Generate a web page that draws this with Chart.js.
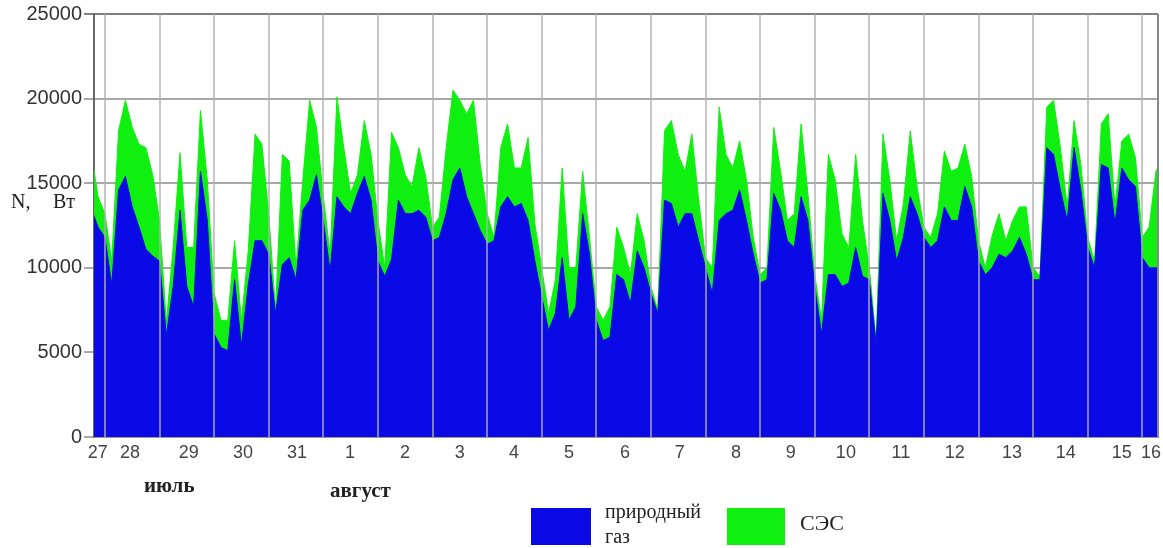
<!DOCTYPE html>
<html lang="ru">
<head>
<meta charset="utf-8">
<title>Мощность: природный газ и СЭС</title>
<script src="https://cdn.jsdelivr.net/npm/chart.js@4.4.1/dist/chart.umd.min.js"></script>
<style>
    body { margin: 0; background: #fff; }
    #wrap { position: relative; width: 1163px; height: 548px; font-family: "Liberation Serif", "Times New Roman", serif; color: #222; }
    #grafico { position: absolute; left: 0; top: 0; }
    .txt { position: absolute; white-space: nowrap; line-height: 1; }
    .caja { position: absolute; }
</style>
</head>
<body>
<div id="wrap">
    <canvas id="grafico" width="1163" height="548"></canvas>
    <div class="txt" style="left:11px; top:191px; font-size:20px;">N,</div>
    <div class="txt" style="left:53px; top:191px; font-size:20px;">Вт</div>
    <div class="txt" style="left:144px; top:475px; font-size:21px; font-weight:bold;">июль</div>
    <div class="txt" style="left:330px; top:480px; font-size:21px; font-weight:bold;">август</div>
    <div class="caja" style="left:531px; top:508px; width:60px; height:37px; background:#0a0ae6;"></div>
    <div class="txt" style="left:605px; top:501px; font-size:20px;">природный</div>
    <div class="txt" style="left:605px; top:526px; font-size:20px;">газ</div>
    <div class="caja" style="left:727px; top:508px; width:58px; height:37px; background:#10f010;"></div>
    <div class="txt" style="left:800px; top:512px; font-size:22px;">СЭС</div>
</div>
<script>
// hours counted from 27 July 00:00
const horas = [18, 21, 24, 27, 30, 33, 36, 39, 42, 45, 48, 51, 54, 57, 60, 63, 66, 69, 72, 75,
    78, 81, 84, 87, 90, 93, 96, 99, 102, 105, 108, 111, 114, 117, 120, 123, 126, 129, 132, 135,
    138, 141, 144, 147, 150, 153, 156, 159, 162, 165, 168, 171, 174, 177, 180, 183, 186, 189, 192, 195,
    198, 201, 204, 207, 210, 213, 216, 219, 222, 225, 228, 231, 234, 237, 240, 243, 246, 249, 252, 255,
    258, 261, 264, 267, 270, 273, 276, 279, 282, 285, 288, 291, 294, 297, 300, 303, 306, 309, 312, 315,
    318, 321, 324, 327, 330, 333, 336, 339, 342, 345, 348, 351, 354, 357, 360, 363, 366, 369, 372, 375,
    378, 381, 384, 387, 390, 393, 396, 399, 402, 405, 408, 411, 414, 417, 420, 423, 426, 429, 432, 435,
    438, 441, 444, 447, 450, 453, 456, 459, 462, 465, 468, 471, 474, 477, 480, 483, 486, 489];

// природный газ (нижний слой), Вт
const gas = [13500, 12400, 11800, 9000, 14600, 15400, 13600, 12400, 11100, 10700, 10400, 6000, 8900, 13400, 8900, 7700, 15700, 12800, 6100, 5300,
    5100, 9300, 5400, 9000, 11600, 11600, 10800, 7300, 10200, 10600, 9300, 13400, 14000, 15500, 12800, 9800, 14200, 13600, 13200, 14400,
    15400, 14000, 10400, 9500, 10500, 14000, 13200, 13200, 13400, 13000, 11600, 11800, 13200, 15200, 15900, 14200, 13200, 12200, 11400, 11600,
    13600, 14200, 13600, 13800, 12800, 10400, 8300, 6300, 7300, 10600, 6900, 7700, 13200, 10800, 6900, 5700, 5900, 9600, 9300, 7900,
    11000, 10000, 8500, 7300, 14000, 13800, 12400, 13200, 13200, 11600, 10000, 8500, 12800, 13200, 13400, 14600, 12800, 10800, 9100, 9300,
    14400, 13400, 11600, 11200, 14200, 12800, 8900, 6100, 9600, 9600, 8900, 9100, 11200, 9500, 9300, 5500, 14400, 12800, 10400, 11800,
    14200, 13200, 11800, 11200, 11600, 13600, 12800, 12800, 14800, 13600, 10400, 9600, 10000, 10800, 10600, 11000, 11800, 10800, 9300, 9300,
    17100, 16700, 14600, 12800, 17100, 14600, 11200, 10000, 16100, 15900, 12600, 15900, 15200, 14800, 10600, 10000, 10000, 10000];

// верх слоя СЭС (газ + СЭС), Вт
const sesTop = [16800, 14200, 13200, 10400, 18100, 19900, 18300, 17300, 17100, 15500, 12800, 6800, 11200, 16800, 11200, 11200, 19300, 15200, 8500, 6900,
    6900, 11600, 6900, 11000, 17900, 17300, 13200, 7500, 16700, 16300, 10000, 15200, 19900, 18300, 14200, 10800, 20100, 17100, 14400, 15500,
    18700, 16700, 12800, 10000, 18000, 17100, 15500, 14800, 17100, 15400, 12400, 13000, 17100, 20500, 19900, 19100, 19900, 16100, 13200, 11800,
    17100, 18500, 15900, 15900, 17700, 12600, 10000, 7300, 9300, 15900, 10000, 10000, 15700, 11800, 7700, 6900, 7700, 12400, 11200, 9600,
    13200, 11600, 8900, 7500, 18100, 18700, 16700, 15700, 17900, 14000, 10600, 10000, 19500, 16700, 15900, 17500, 15200, 11800, 9600, 10000,
    18300, 15700, 12800, 13200, 18500, 14400, 9600, 6900, 16700, 15200, 12000, 11200, 16700, 12800, 10000, 5700, 17900, 15200, 11600, 13800,
    18100, 14800, 12400, 11800, 13200, 16900, 15700, 15900, 17300, 15400, 11600, 10000, 11900, 13200, 11600, 12800, 13600, 13600, 10000, 9500,
    19500, 19900, 17100, 13600, 18700, 16100, 11800, 10400, 18500, 19100, 13600, 17500, 17900, 16500, 11800, 12400, 15700, 16500];

// подписи дней и где они стоят (часы)
const dias = ['27', '28', '29', '30', '31', '1', '2', '3', '4', '5', '6', '7', '8', '9', '10', '11', '12', '13', '14', '15', '16'];
const posDias = [20.9, 35.0, 60.9, 84.7, 108.4, 131.7, 155.9, 180.0, 203.8, 228.0, 252.6, 276.7, 301.4, 325.5, 349.7, 373.9, 397.6, 422.7, 446.4, 471.0, 483.8];
// полночь — вертикальные линии сетки
const medianoches = [24, 48, 72, 96, 120, 144, 168, 192, 216, 240, 264, 288, 312, 336, 360, 384, 408, 432, 456, 480];

const X_MIN = 19.2;
const X_MAX = 486.9;

const puntos = (ys) => horas.map((h, i) => ({ x: h, y: ys[i] }));

const ctx = document.getElementById('grafico').getContext('2d');
new Chart(ctx, {
    type: 'line',
    data: {
        datasets: [
            {
                label: 'природный газ',
                data: puntos(gas),
                borderColor: '#0a0ae6',
                backgroundColor: '#0a0ae6',
                borderWidth: 1,
                fill: 'origin',
                pointRadius: 0,
                tension: 0
            },
            {
                label: 'СЭС',
                data: puntos(sesTop),
                borderColor: '#10f010',
                backgroundColor: '#10f010',
                borderWidth: 1,
                fill: 'origin',
                pointRadius: 0,
                tension: 0
            }
        ]
    },
    options: {
        responsive: false,
        animation: false,
        devicePixelRatio: 1,
        layout: { padding: { top: 13, right: 5, left: 0, bottom: 0 } },
        plugins: {
            legend: { display: false },
            tooltip: { enabled: false }
        },
        scales: {
            x: {
                type: 'linear',
                min: X_MIN,
                max: X_MAX,
                afterBuildTicks: (scale) => {
                    const vals = [...medianoches, ...posDias, X_MAX].sort((a, b) => a - b);
                    scale.ticks = vals.map(v => ({ value: v }));
                },
                afterFit: (scale) => { scale.height = 111; },
                ticks: {
                    autoSkip: false,
                    maxRotation: 0,
                    padding: 5,
                    color: '#444',
                    font: { family: '"Liberation Sans", Arial, sans-serif', size: 18 },
                    callback: (value) => {
                        const i = posDias.indexOf(value);
                        return i >= 0 ? dias[i] : '';
                    }
                },
                grid: {
                    z: 1,
                    drawTicks: false,
                    lineWidth: 2,
                    color: (c) => {
                        const v = c.tick ? c.tick.value : null;
                        if (v === X_MAX) return '#888';
                        if (medianoches.includes(v)) return 'rgba(175,175,175,0.7)';
                        return 'rgba(0,0,0,0)';
                    }
                },
                border: { display: true, color: '#999', width: 1, z: 1 }
            },
            y: {
                min: 0,
                max: 25000,
                afterFit: (scale) => { scale.width = 94; },
                ticks: {
                    stepSize: 5000,
                    padding: 2,
                    color: '#333',
                    font: { family: '"Liberation Sans", Arial, sans-serif', size: 20 },
                    callback: (value) => String(value)
                },
                grid: {
                    lineWidth: 2,
                    tickLength: 10,
                    color: (c) => (c.tick && c.tick.value === 25000 ? '#808080' : '#a8a8a8')
                },
                border: { display: true, color: '#666', width: 2 }
            }
        }
    }
});
</script>
</body>
</html>
